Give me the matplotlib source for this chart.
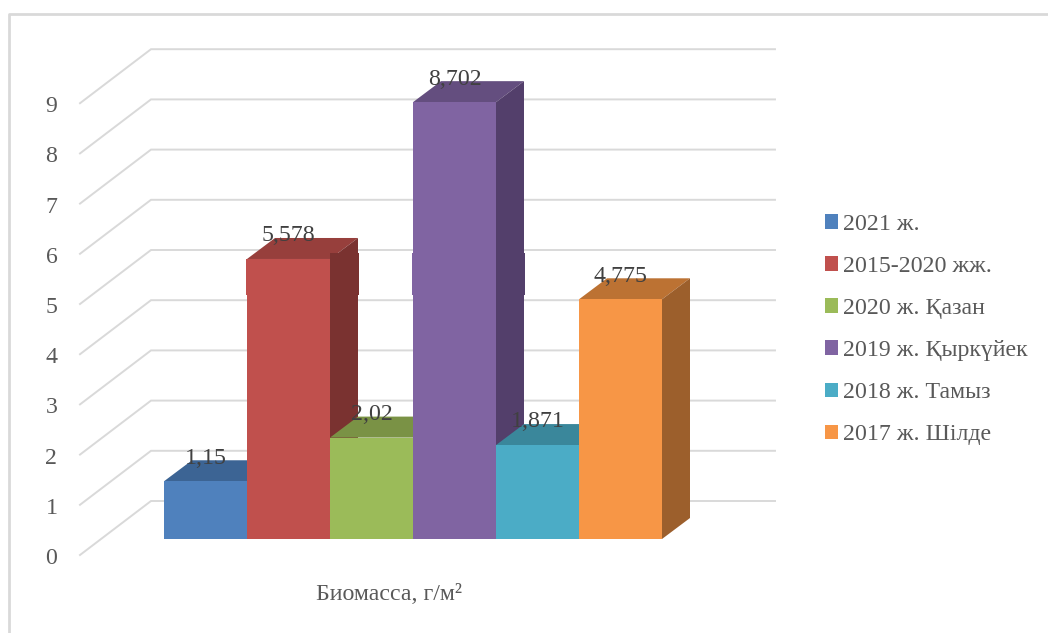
import matplotlib
matplotlib.use('Agg')
import matplotlib.pyplot as plt
from matplotlib.patches import Patch, Polygon, Rectangle

plt.rcParams['font.family'] = ['Liberation Serif', 'DejaVu Serif']

series_names = ['2021 ж.', '2015-2020 жж.', '2020 ж. Қазан',
                '2019 ж. Қыркүйек', '2018 ж. Тамыз', '2017 ж. Шілде']
values = [1.15, 5.578, 2.02, 8.702, 1.871, 4.775]
front_colors = ['#4F81BD', '#C0504D', '#9BBB59', '#8064A2', '#4BACC6', '#F79646']
top_colors = ['#3C6494', '#973F3C', '#7A9245', '#644E7F', '#3A879B', '#BC7233']
side_colors = ['#325378', '#7A3230', '#627637', '#533F6B', '#2F6E7F', '#9C5F2C']
y_ticks = list(range(0, 10))
x_label = 'Биомасса, г/м²'

# one category = 83 px, one y unit = 50.2 px
px_x = 83
px_y = 50.2
x0 = 164
y0 = 539


def cx(px):
    return (px - x0) / px_x


def cy(py):
    return (y0 - py) / px_y


fig = plt.figure(figsize=(10.48, 6.33), dpi=100)
ax = fig.add_axes([0, 0, 1, 1])
ax.set_xlim(cx(0), cx(1048))
ax.set_ylim(cy(633), cy(0))
ax.axis('off')

# chart frame
grid_color = '#D9D9D9'
ax.plot([cx(9), cx(9), cx(1048)], [cy(633), cy(14), cy(14)], color=grid_color, lw=2, zorder=1)

# walls and gridlines
wall_left = cx(80)
wall_back = cx(151)
wall_right = cx(775)
wall_front_off = cy(555)
wall_back_off = cy(501)
label_off = cy(558.5)
for t in y_ticks:
    ax.plot([wall_left, wall_back, wall_right],
            [t + wall_front_off, t + wall_back_off, t + wall_back_off],
            color=grid_color, lw=1.4, zorder=1, solid_joinstyle='miter')
    ax.text(cx(51.5), t + label_off, str(t), fontsize=17.2, color='#595959',
            ha='center', va='center', zorder=5)

# bars, left to right so each one hides the side of the one before it
depth_x = 28 / px_x
depth_y = 21 / px_y
band_low = cy(295)
band_high = cy(253)
pad = 1 / px_x
for i, v in enumerate(values):
    z = 2 + i * 0.1
    ax.add_patch(Polygon([(i, v), (i + 1, v), (i + 1 + depth_x, v + depth_y), (i + depth_x, v + depth_y)],
                         closed=True, fc=top_colors[i], ec='none', zorder=z))
    ax.add_patch(Polygon([(i + 1, 0), (i + 1 + depth_x, depth_y), (i + 1 + depth_x, v + depth_y), (i + 1, v)],
                         closed=True, fc=side_colors[i], ec='none', zorder=z))
    ax.add_patch(Rectangle((i, 0), 1, v, fc=front_colors[i], ec='none', zorder=z))
    # the reference has a slightly wider strip across the tall bars
    if v + depth_y > band_high:
        strip_top = min(v, band_high)
        ax.add_patch(Polygon([(i + 1, band_low), (i + 1 + depth_x + pad, band_low),
                              (i + 1 + depth_x + pad, band_high), (i + 1, band_high)],
                             closed=True, fc=side_colors[i], ec='none', zorder=z))
        ax.add_patch(Rectangle((i - pad, band_low), 1 + pad, strip_top - band_low,
                               fc=front_colors[i], ec='none', zorder=z))

for i, v in enumerate(values):
    ax.text(i + 0.5, v + 0.46, str(v).replace('.', ','), fontsize=17.2, color='#404040',
            ha='center', va='center', zorder=6)

ax.text(cx(388.5), cy(595), x_label, fontsize=17.2, color='#595959', ha='center', va='center')

handles = [Patch(fc=c, ec='none') for c in front_colors]
ax.legend(handles, series_names, loc='upper left', bbox_to_anchor=(825 / 1048, 1 - 214 / 633),
          frameon=False, prop={'size': 17.2}, labelcolor='#595959', handlelength=0.54, handleheight=0.54,
          handletextpad=0.21, labelspacing=0.88, borderpad=0, borderaxespad=0)

fig.savefig('out.png', dpi=100)
